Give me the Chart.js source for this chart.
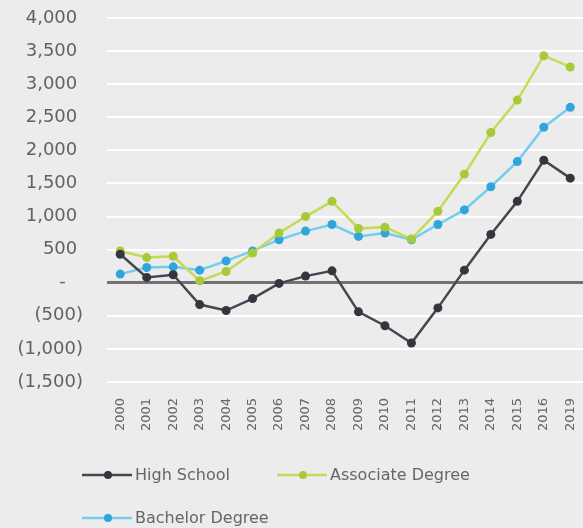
<!DOCTYPE html>
<html>
<head>
<meta charset="utf-8">
<script src="https://cdn.jsdelivr.net/npm/chart.js@4.4.1/dist/chart.umd.min.js"></script>
<style>
  body { margin: 0; background: #ececec; }
  #wrap { position: relative; width: 583px; height: 528px; overflow: hidden; }
  #legend {
    position: absolute; left: 82px; top: 453px; width: 400px;
    display: flex; flex-wrap: wrap;
    font-family: "DejaVu Sans", sans-serif; font-size: 16px; color: #666666;
  }
  #legend .item { display: flex; align-items: center; width: 195px; height: 43px; }
  #legend .item span { line-height: 24px; }
  #legend canvas { margin-right: 3px; }
</style>
</head>
<body>
<div id="wrap">
  <!-- a little wider than the page: the last category's padding falls outside -->
  <canvas id="wageChart" width="588" height="528"></canvas>
  <div id="legend"></div>
</div>
<script>
const years = ['2000', '2001', '2002', '2003', '2004', '2005', '2006', '2007', '2008',
  '2009', '2010', '2011', '2012', '2013', '2014', '2015', '2016', '2019'];

const highSchool = [430, 80, 120, -330, -420, -240, -10, 100, 180,
  -440, -650, -910, -380, 190, 730, 1230, 1850, 1580];
const associateDegree = [480, 380, 400, 30, 170, 450, 750, 1000, 1230,
  820, 840, 660, 1080, 1640, 2270, 2760, 3430, 3260];
const bachelorDegree = [130, 230, 240, 190, 330, 480, 650, 780, 880,
  700, 750, 650, 880, 1100, 1450, 1830, 2350, 2650];

const yMin = -1500;
const yMax = 4000;
const yStep = 500;

// accounting style: (500) for negatives, dash for zero
function accounting(v) {
    if (v === 0) return '-   ';
    const s = Math.abs(v).toLocaleString('en-US');
    return v < 0 ? '(' + s + ')' : s + ' ';
}

function series(label, data, line, point) {
    return {
        label: label,
        data: data,
        borderColor: line,
        backgroundColor: point,
        pointBackgroundColor: point,
        pointBorderColor: point,
        borderWidth: 2.5,
        pointRadius: 4.5,
        pointBorderWidth: 0,
        tension: 0
    };
}

const ctx = document.getElementById('wageChart').getContext('2d');
const chart = new Chart(ctx, {
    type: 'line',
    data: {
        labels: years,
        datasets: [
            series('High School', highSchool, '#45474f', '#34363f'),
            series('Associate Degree', associateDegree, '#c3dc55', '#a8c93c'),
            series('Bachelor Degree', bachelorDegree, '#74cdee', '#2ea6db')
        ]
    },
    options: {
        responsive: false,
        animation: false,
        layout: { padding: { top: 18, right: 0, bottom: 96, left: 0 } },
        plugins: {
            legend: { display: false },
            tooltip: { enabled: false }
        },
        scales: {
            x: {
                offset: true,
                grid: { display: false },
                border: { display: false },
                ticks: {
                    color: '#666666',
                    font: { family: 'DejaVu Sans', size: 13 },
                    minRotation: 90,
                    maxRotation: 90,
                    padding: 8,
                    autoSkip: false
                },
                afterFit: function (scale) {
                    scale.height = 50;
                    scale.paddingLeft = 0;
                    scale.paddingRight = 0;
                }
            },
            y: {
                min: yMin,
                max: yMax,
                border: { display: false },
                grid: {
                    drawTicks: false,
                    color: c => c.tick.value === 0 ? '#727272' : '#ffffff',
                    lineWidth: c => c.tick.value === 0 ? 3 : 2
                },
                ticks: {
                    stepSize: yStep,
                    color: '#626262',
                    font: { family: 'DejaVu Sans', size: 18 },
                    padding: 24,
                    callback: v => accounting(v)
                },
                afterFit: function (scale) {
                    scale.width = 107;
                    scale.paddingTop = 0;
                    scale.paddingBottom = 0;
                }
            }
        }
    }
});

// html legend built from the datasets: line sample with a dot, then the label
const legendBox = document.getElementById('legend');
chart.data.datasets.forEach(ds => {
    const item = document.createElement('div');
    item.className = 'item';
    const sw = document.createElement('canvas');
    sw.width = 50;
    sw.height = 14;
    const g = sw.getContext('2d');
    g.strokeStyle = ds.borderColor;
    g.lineWidth = 2.5;
    g.beginPath();
    g.moveTo(0, 7);
    g.lineTo(50, 7);
    g.stroke();
    g.fillStyle = ds.pointBackgroundColor;
    g.beginPath();
    g.arc(26, 7, 4, 0, Math.PI * 2);
    g.fill();
    const txt = document.createElement('span');
    txt.textContent = ds.label;
    item.appendChild(sw);
    item.appendChild(txt);
    legendBox.appendChild(item);
});
</script>
</body>
</html>
